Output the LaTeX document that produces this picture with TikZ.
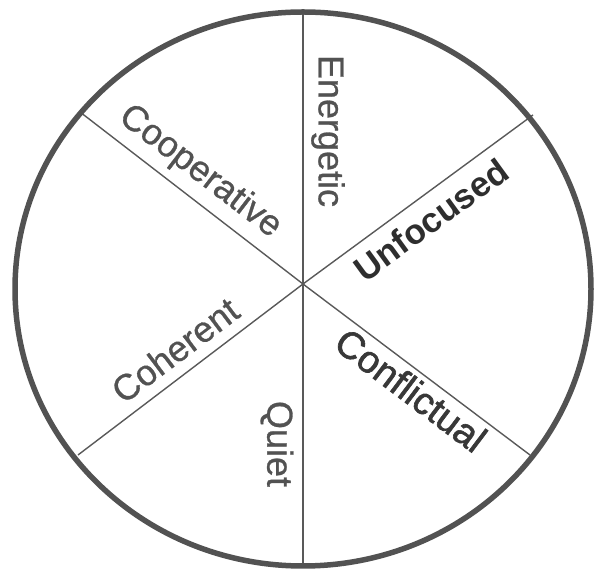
\documentclass[tikz,border=0pt]{standalone}
\usepackage{fontspec}
\setmainfont{Liberation Sans}
\newfontfamily\heavyreg[FakeBold=0.8]{Liberation Sans}
\newfontfamily\heavymed[FakeBold=1.6]{Liberation Sans}
\begin{document}
\begin{tikzpicture}[x=1pt,y=1pt,
  rim/.style={draw=black!68,line width=5.5pt},
  spoke/.style={draw=black!65,line width=1.4pt},
  lbl/.style={text=black!68,font=\heavyreg\fontsize{36}{40}\selectfont,inner sep=0pt},
  lblmed/.style={text=black!78,font=\heavymed\fontsize{38}{42}\selectfont,inner sep=0pt},
  lbldark/.style={text=black!82,font=\fontsize{35}{40}\selectfont\bfseries,inner sep=0pt}]
\useasboundingbox (0,0) rectangle (595,570);
\coordinate (c) at (303,286);
\coordinate (top) at (303,558);
\coordinate (bot) at (303,4);
\coordinate (ul) at (80,458);
\coordinate (ur) at (533,455);
\coordinate (ll) at (78,115);
\coordinate (lr) at (530,115);
\draw[spoke] (top) -- (bot);
\draw[spoke] (ul) -- (c) -- (lr);
\draw[spoke] (ll) -- (c) -- (ur);
\draw[rim] (303,281) ellipse[x radius=288,y radius=277];
\node[lbl,rotate=-90] (energetic) at (328,439) {Energetic};
\node[lbl,rotate=-90] (quiet) at (277,126) {Quiet};
\node[lbl,rotate=-37.5] (coop) at (200,398) {Cooperative};
\node[lbldark,rotate=36] (unf) at (431,350) {Unfocused};
\node[lbl,rotate=37] (coh) at (175,220) {Coherent};
\node[lblmed,rotate=-37] (conf) at (411,180) {Conflictual};
\end{tikzpicture}
\end{document}
